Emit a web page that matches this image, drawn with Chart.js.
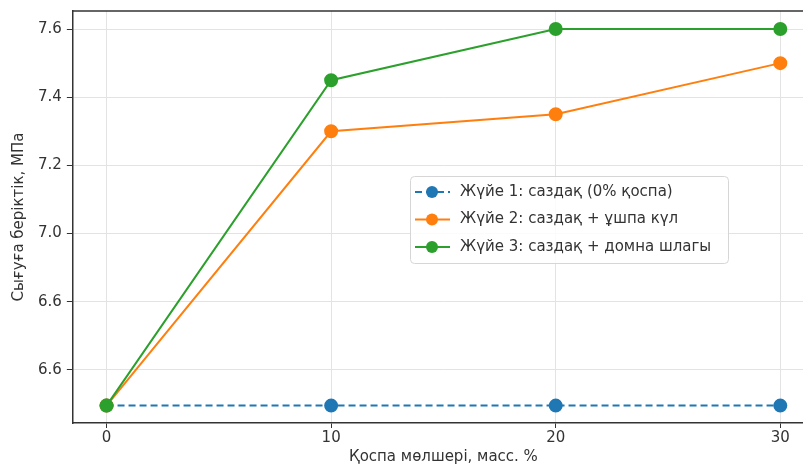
<!DOCTYPE html>
<html>
<head>
<meta charset="utf-8">
<script src="https://cdn.jsdelivr.net/npm/chart.js@4.4.0/dist/chart.umd.min.js"></script>
<style>
  html, body { margin: 0; padding: 0; background: #fff; overflow: hidden; }
  #wrap { width: 822px; height: 468px; position: relative; }
</style>
</head>
<body>
<div id="wrap"><canvas id="chart"></canvas></div>
<script>
const xValues = [0, 10, 20, 30];
const xTicks = [0, 10, 20, 30];
const yTickValues = [6.6, 6.8, 7.0, 7.2, 7.4, 7.6];
const yTickLabels = ['6.6', '6.6', '7.0', '7.2', '7.4', '7.6'];

const seriesNames = [
    'Жүйе 1: саздақ (0% қоспа)',
    'Жүйе 2: саздақ + ұшпа күл',
    'Жүйе 3: саздақ + домна шлагы'
];
const system1 = [6.495, 6.495, 6.495, 6.495];
const system2 = [6.495, 7.30, 7.35, 7.50];
const system3 = [6.495, 7.45, 7.60, 7.60];

const colors = ['#1f77b4', '#ff7f0e', '#2ca02c'];
const fontFamily = "'DejaVu Sans', sans-serif";
const textColor = '#333';

const toPoints = vals => vals.map((v, i) => ({ x: xValues[i], y: v }));

// top spine, matplotlib style
const frame = {
    id: 'frame',
    afterDatasetsDraw(chart) {
        const { ctx, chartArea: a } = chart;
        ctx.save();
        ctx.strokeStyle = '#333';
        ctx.lineWidth = 1.5;
        ctx.beginPath();
        ctx.moveTo(a.left, a.top);
        ctx.lineTo(a.right, a.top);
        ctx.stroke();
        ctx.restore();
    }
};

// legend drawn inside the plot, like the original
const innerLegend = {
    id: 'innerLegend',
    afterDraw(chart) {
        const ctx = chart.ctx;
        const x0 = 410, y0 = 176, w = 318, h = 87, rowH = 27.5;
        ctx.save();
        ctx.fillStyle = 'rgba(255,255,255,0.85)';
        ctx.strokeStyle = '#d6d6d6';
        ctx.lineWidth = 1;
        ctx.beginPath();
        ctx.roundRect(x0 + 0.5, y0 + 0.5, w, h, 4);
        ctx.fill();
        ctx.stroke();
        chart.data.datasets.forEach((ds, i) => {
            const cy = y0 + 16 + i * rowH;
            ctx.strokeStyle = ds.borderColor;
            ctx.lineWidth = 2;
            ctx.setLineDash(ds.borderDash || []);
            ctx.beginPath();
            ctx.moveTo(x0 + 5, cy);
            ctx.lineTo(x0 + 40, cy);
            ctx.stroke();
            ctx.setLineDash([]);
            ctx.fillStyle = ds.borderColor;
            ctx.beginPath();
            ctx.arc(x0 + 22, cy, 6, 0, Math.PI * 2);
            ctx.fill();
            ctx.fillStyle = textColor;
            ctx.font = '15px ' + fontFamily;
            ctx.textBaseline = 'middle';
            ctx.fillText(ds.label, x0 + 50, cy);
        });
        ctx.restore();
    }
};

const makeDataset = (i, vals, extra) => Object.assign({
    label: seriesNames[i],
    data: toPoints(vals),
    borderColor: colors[i],
    backgroundColor: colors[i],
    pointBackgroundColor: colors[i],
    pointBorderColor: colors[i],
    borderWidth: 2,
    pointRadius: 6,
    pointHoverRadius: 6,
    tension: 0,
    fill: false
}, extra);

new Chart(document.getElementById('chart'), {
    type: 'line',
    data: {
        datasets: [
            makeDataset(0, system1, { borderDash: [7, 4], order: 2 }),
            makeDataset(1, system2, { order: 1 }),
            makeDataset(2, system3, { order: 0 })
        ]
    },
    options: {
        responsive: true,
        maintainAspectRatio: false,
        animation: false,
        layout: { padding: { top: 11, right: 8, left: 10, bottom: 2 } },
        plugins: {
            legend: { display: false },
            tooltip: { enabled: false }
        },
        scales: {
            x: {
                type: 'linear',
                min: -1.5,
                max: 31.5,
                afterBuildTicks: axis => { axis.ticks = xTicks.map(v => ({ value: v })); },
                grid: { color: '#e3e3e3', tickColor: '#333', tickLength: 5 },
                border: { color: '#333', width: 1.5 },
                ticks: { color: textColor, font: { family: fontFamily, size: 15 }, padding: 1 },
                title: {
                    display: true,
                    text: 'Қоспа мөлшері, масс. %',
                    color: textColor,
                    font: { family: fontFamily, size: 15 },
                    padding: { top: 0, bottom: 0 }
                }
            },
            y: {
                min: 6.444,
                max: 7.653,
                afterBuildTicks: axis => { axis.ticks = yTickValues.map(v => ({ value: v })); },
                afterFit: axis => { axis.paddingTop = 0; axis.paddingBottom = 0; },
                grid: { color: '#e3e3e3', tickColor: '#333', tickLength: 6 },
                border: { color: '#333', width: 1.5 },
                ticks: {
                    color: textColor,
                    font: { family: fontFamily, size: 15 },
                    padding: 5,
                    callback: (value, index) => yTickLabels[index]
                },
                title: {
                    display: true,
                    text: 'Сығуға беріктік, МПа',
                    color: textColor,
                    font: { family: fontFamily, size: 15 },
                    padding: { top: 0, bottom: 5 }
                }
            }
        }
    },
    plugins: [frame, innerLegend]
});
</script>
</body>
</html>
